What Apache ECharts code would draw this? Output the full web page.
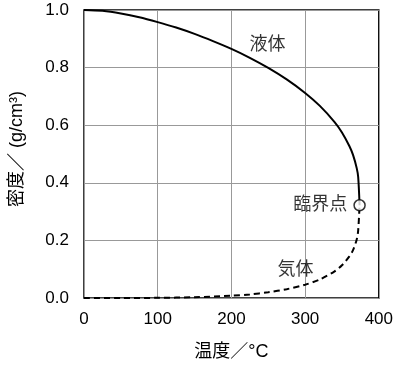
<!DOCTYPE html>
<html><head><meta charset="utf-8">
<script src="https://cdn.jsdelivr.net/npm/echarts@6/dist/echarts.min.js"></script>
<style>html,body{margin:0;padding:0;background:#fff}#c{width:396px;height:368px}</style>
</head><body><div id="c"></div>
<script>
const liquidT = [0, 25, 50, 75, 100, 125, 150, 175, 200, 225, 250, 275, 300, 320, 340, 350, 360, 365, 370, 372, 373.9];
const liquidD = [1.000, 0.997, 0.988, 0.975, 0.958, 0.939, 0.917, 0.892, 0.865, 0.834, 0.799, 0.759, 0.712, 0.667, 0.611, 0.575, 0.528, 0.497, 0.451, 0.420, 0.322];
const vaporT = [0, 50, 100, 150, 200, 225, 250, 275, 300, 320, 340, 350, 360, 365, 370, 372, 373.9];
const vaporD = [0.000, 0.0001, 0.0006, 0.0026, 0.0079, 0.0125, 0.0199, 0.0306, 0.0463, 0.0644, 0.0927, 0.1135, 0.1445, 0.1660, 0.2035, 0.235, 0.322];
const critical = [373.9, 0.322];
const textLabels = [{name: '液体', pos: [249, 0.878]}, {name: '気体', pos: [287, 0.097]}];
const xTicks = [0, 100, 200, 300, 400];
const yTicks = [0.0, 0.2, 0.4, 0.6, 0.8, 1.0];

const font = 'Liberation Sans, Arial, Noto Sans CJK JP, sans-serif';
const chart = echarts.init(document.getElementById('c'));
chart.setOption({
  animation: false,
  grid: {left: 83, top: 10, width: 297, height: 288, show: true, borderColor: '#000', borderWidth: 1.5, backgroundColor: 'transparent'},
  xAxis: {
    type: 'value', min: xTicks[0], max: xTicks[xTicks.length - 1], interval: 100,
    name: '温度／°C', nameLocation: 'middle', nameGap: 45,
    nameTextStyle: {fontFamily: font, fontSize: 18, color: '#000'},
    axisLine: {show: false}, axisTick: {show: false},
    axisLabel: {fontFamily: font, fontSize: 17, color: '#000', margin: 13},
    splitLine: {show: true, lineStyle: {color: '#999', width: 1}}
  },
  yAxis: {
    type: 'value', min: yTicks[0], max: yTicks[yTicks.length - 1], interval: 0.2,
    name: '密度／ (g/cm³)', nameLocation: 'middle', nameGap: 58,
    nameTextStyle: {fontFamily: font, fontSize: 18, color: '#000', padding: [0, 0, 0, 10]},
    axisLine: {show: false}, axisTick: {show: false},
    axisLabel: {fontFamily: font, fontSize: 17, color: '#000', margin: 15, formatter: v => v.toFixed(1)},
    splitLine: {show: true, lineStyle: {color: '#999', width: 1}}
  },
  series: [
    {type: 'line', data: liquidT.map((t, i) => [t, liquidD[i]]), smooth: 0.3, showSymbol: false,
     lineStyle: {color: '#000', width: 2}, z: 3},
    {type: 'line', data: vaporT.map((t, i) => [t, vaporD[i]]), smooth: 0.3, showSymbol: false,
     lineStyle: {color: '#000', width: 2, type: [6, 4]}, z: 3},
    {type: 'scatter', data: [critical], symbol: 'circle', symbolSize: 11,
     itemStyle: {color: '#fff', borderColor: '#000', borderWidth: 1.5}, z: 5,
     label: {show: true, position: 'left', distance: 6, formatter: '臨界点', fontFamily: font, fontSize: 18, color: '#000'}},
    {type: 'scatter', data: textLabels.map(d => ({name: d.name, value: d.pos})), symbolSize: 0, z: 4,
     label: {show: true, position: 'inside', formatter: p => p.name, fontFamily: font, fontSize: 18, color: '#000'}}
  ]
});
</script></body></html>
